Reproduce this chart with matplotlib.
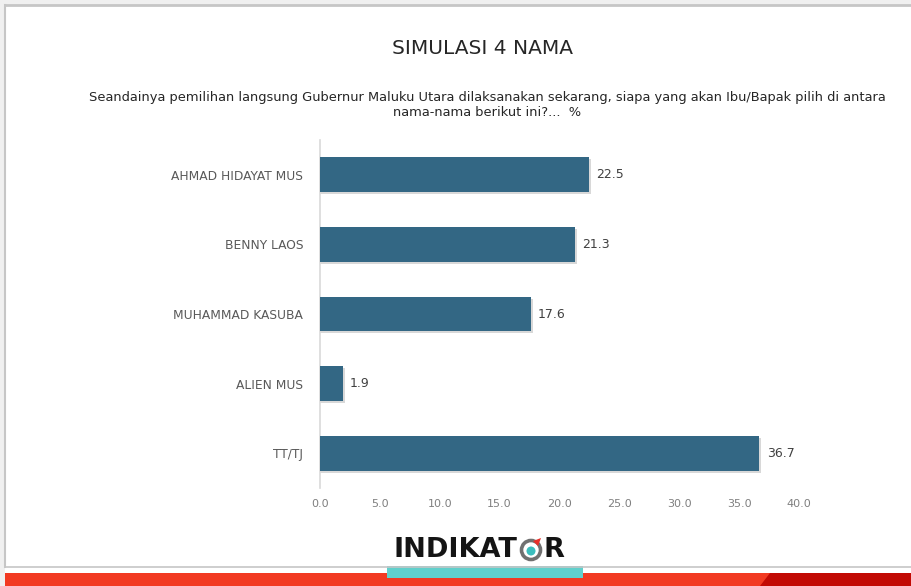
import matplotlib
matplotlib.use("Agg")
import matplotlib.pyplot as plt
from matplotlib.patches import Rectangle, Circle, Polygon

# data
names = ["AHMAD HIDAYAT MUS", "BENNY LAOS", "MUHAMMAD KASUBA", "ALIEN MUS", "TT/TJ"]
values = [22.5, 21.3, 17.6, 1.9, 36.7]
xticks = [0, 5, 10, 15, 20, 25, 30, 35, 40]

title = "SIMULASI 4 NAMA"
subtitle = ("Seandainya pemilihan langsung Gubernur Maluku Utara dilaksanakan sekarang, siapa yang akan Ibu/Bapak pilih di antara\n"
            "nama-nama berikut ini?...  %")

W, H = 911, 586
fig = plt.figure(figsize=(W / 100, H / 100), dpi=100)
fig.patch.set_facecolor("white")

# background / frame layer in pixel coords
bg = fig.add_axes([0, 0, 1, 1], zorder=0)
bg.set_xlim(0, W)
bg.set_ylim(H, 0)
bg.axis("off")
bg.add_patch(Rectangle((0, 0), W, 5, color="#f0f0f0", lw=0))
bg.add_patch(Rectangle((0, 0), 5, H, color="#f0f0f0", lw=0))
bg.plot([5, W], [5, 5], color="#c6c6c6", lw=2)
bg.plot([5, 5], [5, 567], color="#c6c6c6", lw=1.5)
bg.plot([5, W], [567, 567], color="#c6c6c6", lw=1.2)
# bottom strip
bg.add_patch(Rectangle((5, 573), W, 14, color="#f23a22", lw=0))
bg.add_patch(Polygon([(770, 573), (W, 573), (W, H), (760, H)], color="#c20a04", lw=0))
bg.add_patch(Rectangle((387, 566), 196, 12, color="#60d0cc", lw=0))

# logo
bg.text(393, 550, "INDIKAT", fontsize=19.5, fontweight="bold", color="#141414",
        ha="left", va="center", family="DejaVu Sans")
bg.add_patch(Circle((531, 550), 9.5, fill=False, ec="#707070", lw=2.6))
bg.add_patch(Circle((531, 551), 4.5, color="#3cbdbd", lw=0))
bg.add_patch(Polygon([(533, 541), (541, 538), (538, 546)], color="#e8302a", lw=0))
bg.text(543, 550, "R", fontsize=19.5, fontweight="bold", color="#141414",
        ha="left", va="center", family="DejaVu Sans")

# titles
fig.text(483 / W, 1 - 48 / H, title, ha="center", va="center", fontsize=14.5, color="#262626")
fig.text(487 / W, 1 - 105 / H, subtitle, ha="center", va="center", fontsize=9.35,
         color="#262626", linespacing=1.3)

# chart
ax = fig.add_axes([320 / W, 1 - 488 / H, 479 / W, 348 / H], zorder=1)
ax.set_facecolor("none")
ypos = list(range(len(names)))
bars = ax.barh(ypos, values, height=0.5, color="#336784", zorder=3)
# faint shadow under bars
ax.barh([y + 0.03 for y in ypos], [v + 0.15 for v in values], height=0.5,
        color="#bfbfbf", zorder=2, alpha=0.6)
for y, v in zip(ypos, values):
    ax.text(v + 0.6, y, f"{v:.1f}", va="center", ha="left", fontsize=9, color="#404040")

ax.set_xlim(0, 40)
ax.set_ylim(len(names) - 0.5, -0.5)
ax.set_yticks(ypos)
ax.set_yticklabels(names, fontsize=8.8, color="#595959")
ax.set_xticks(xticks)
ax.set_xticklabels([f"{t:.1f}" for t in xticks], fontsize=8, color="#7f7f7f")
ax.tick_params(axis="both", length=0)
ax.tick_params(axis="y", pad=12)
ax.tick_params(axis="x", pad=8)
for s in ["top", "right", "bottom"]:
    ax.spines[s].set_visible(False)
ax.spines["left"].set_color("#d9d9d9")
ax.spines["left"].set_linewidth(1.2)

fig.savefig("out.png", dpi=100)
